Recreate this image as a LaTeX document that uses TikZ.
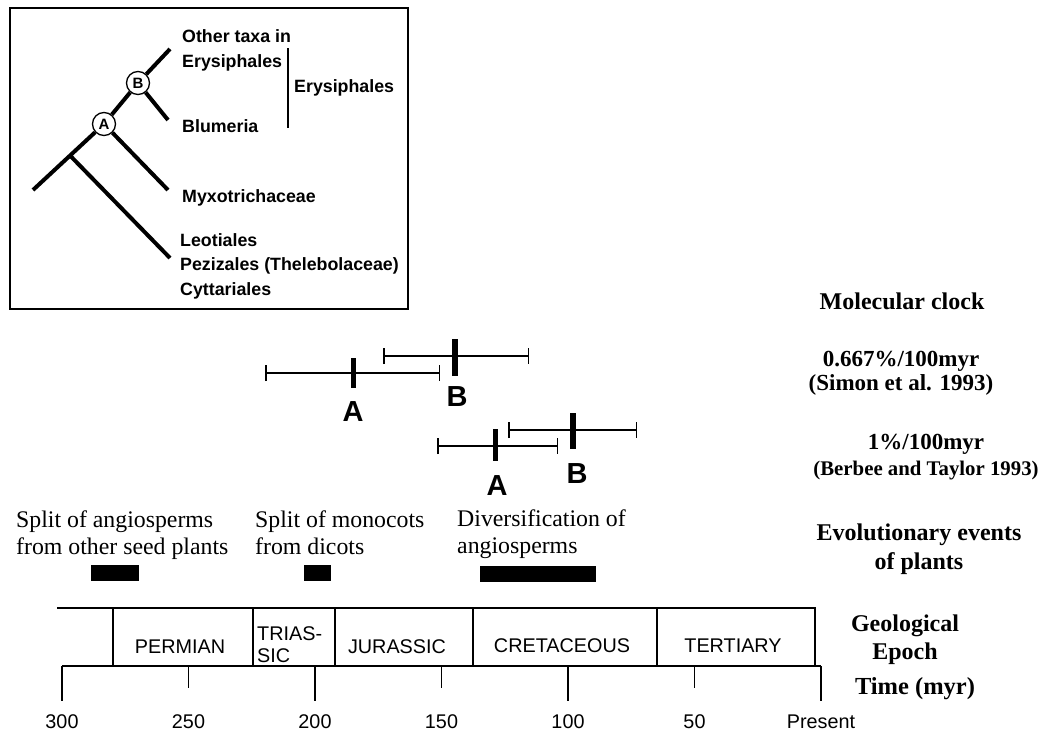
\documentclass[tikz,border=0pt]{standalone}
\usepackage{fontspec}
\setmainfont{Liberation Serif}
\setsansfont{Liberation Sans}
\usetikzlibrary{arrows.meta}

\tikzset{
	branch/.style={line width=4pt},
	clade/.style={circle, draw, line width=1.3pt, fill=white, inner sep=0pt,
			minimum size=23pt, font=\sffamily\bfseries\fontsize{15}{15}\selectfont},
	taxon/.style={anchor=base west, inner sep=0pt, align=left,
			font=\sffamily\bfseries\fontsize{17.8}{24.5}\selectfont},
	errbar/.style={line width=1.5pt, {Bar[width=16pt]}-{Bar[width=16pt]}},
	estimate/.style={rectangle, fill=black, inner sep=0pt, minimum width=5pt},
	estlabel/.style={inner sep=0pt, font=\sffamily\bfseries\fontsize{29}{29}\selectfont},
	rowlabel/.style={inner sep=0pt, align=center},
	event/.style={anchor=base west, inner sep=0pt, align=left,
			font=\fontsize{23.8}{27}\selectfont},
	epoch/.style={inner sep=0pt, font=\sffamily\fontsize{19.8}{22}\selectfont},
	timeline/.style={line width=1.4pt},
}

\begin{document}
\begin{tikzpicture}[x=1pt, y=-1pt]
	\useasboundingbox (0,0) rectangle (1040,731);

	% Phylogeny inset
	\draw[line width=2pt] (10,8) rectangle (408,309);
	\node[clade] (A) at (104,124) {A};
	\node[clade] (B) at (138,83) {B};
	\coordinate (root) at (33,190);
	\coordinate (fork) at (70,155.5);
	\coordinate (tEry) at (170,49);
	\coordinate (tBlu) at (168,120);
	\coordinate (tMyx) at (168,190);
	\coordinate (tLeo) at (170,258);
	\draw[branch] (root) -- (A);
	\draw[branch] (A) -- (B);
	\draw[branch] (B) -- (tEry);
	\draw[branch] (B) -- (tBlu);
	\draw[branch] (A) -- (tMyx);
	\draw[branch] (fork) -- (tLeo);

	\node[taxon] (ery) at (182,67) {Other taxa in\\Erysiphales};
	\node[taxon] (blu) at (182,132) {Blumeria};
	\node[taxon] (myx) at (182,202) {Myxotrichaceae};
	\node[taxon] (leo) at (180,295) {Leotiales\\Pezizales (Thelebolaceae)\\Cyttariales};
	\coordinate (brTop) at (288,48);
	\coordinate (brBot) at (288,128);
	\draw[line width=1.6pt] (brTop) -- (brBot);
	\node[taxon] (order) at (294,92) {Erysiphales};

	% Molecular clock, 0.667%/100myr
	\coordinate (sA-lo) at (265,373);
	\coordinate (sA-hi) at (440,373);
	\draw[errbar] (sA-lo) -- (sA-hi);
	\node[estimate, minimum height=30pt] (sA-est) at (353,373) {};
	\node[estlabel] (sA-lbl) at (353,412) {A};

	\coordinate (sB-lo) at (383,356);
	\coordinate (sB-hi) at (529,356);
	\draw[errbar] (sB-lo) -- (sB-hi);
	\node[estimate, minimum height=37pt, minimum width=5.5pt] (sB-est) at (455,357.5) {};
	\node[estlabel] (sB-lbl) at (457,397) {B};

	% Molecular clock, 1%/100myr
	\coordinate (bA-lo) at (437,446);
	\coordinate (bA-hi) at (558,446);
	\draw[errbar] (bA-lo) -- (bA-hi);
	\node[estimate, minimum height=32pt] (bA-est) at (495,445) {};
	\node[estlabel] (bA-lbl) at (497,486) {A};

	\coordinate (bB-lo) at (508,430);
	\coordinate (bB-hi) at (637,430);
	\draw[errbar] (bB-lo) -- (bB-hi);
	\node[estimate, minimum height=36pt, minimum width=5.5pt] (bB-est) at (573,431) {};
	\node[estlabel] (bB-lbl) at (577,474) {B};

	% Row labels on the right
	\node[rowlabel, font=\bfseries\fontsize{24}{24}\selectfont] (clock) at (902,301) {Molecular clock};
	\node[rowlabel, font=\bfseries\fontsize{23}{24}\selectfont] (simon) at (901,373) {0.667\%/100myr\\(Simon et al. 1993)};
	\node[rowlabel, font=\bfseries\fontsize{20.8}{26}\selectfont] (berbee) at (926,457) {{\fontsize{23}{26}\selectfont 1\%/100myr}\\(Berbee and Taylor 1993)};
	\node[rowlabel, font=\bfseries\fontsize{24}{29}\selectfont] (plants) at (919,549.5) {Evolutionary events\\of plants};
	\node[rowlabel, font=\bfseries\fontsize{24}{28}\selectfont] (geol) at (905,640) {Geological\\Epoch};
	\node[rowlabel, font=\bfseries\fontsize{24.5}{24.5}\selectfont] (time) at (915,689) {Time (myr)};

	% Evolutionary events of plants
	\node[event] (ev1) at (16,554) {Split of angiosperms\\from other seed plants};
	\node[event] (ev2) at (255,554) {Split of monocots\\from dicots};
	\node[event] (ev3) at (457,553) {Diversification of\\angiosperms};
	\fill (91,565) rectangle (139,581);
	\fill (304,565) rectangle (331,581);
	\fill (480,566) rectangle (596,582);

	% Geological epochs
	\draw[timeline] (57,608) -- (815,608) -- (815,666);
	\foreach \xd in {113,253,335,473,657}
		\draw[timeline] (\xd,608) -- (\xd,666);
	\node[epoch] (perm) at (180,647) {PERMIAN};
	\node[epoch, anchor=base west, align=left] (tria) at (257,662) {TRIAS-\\SIC};
	\node[epoch] (jura) at (397,647) {JURASSIC};
	\node[epoch] (cret) at (562,646) {CRETACEOUS};
	\node[epoch] (tert) at (733,646) {TERTIARY};

	% Time axis
	\draw[timeline] (62,666) -- (821,666);
	\draw[line width=2.2pt] (62,666) -- (113,666);
	\foreach \t/\len in {300/701,250/688,200/701,150/688,100/701,50/688,0/701}
		\draw[timeline] ({62+(300-\t)*2.53},666) -- ({62+(300-\t)*2.53},\len);
	\foreach \t in {300,250,200,150,100,50}
		\node[epoch, anchor=base] (lbl\t) at ({62+(300-\t)*2.53},728) {\t};
	\node[epoch, anchor=base] (lbl0) at (821,728) {Present};
\end{tikzpicture}
\end{document}
